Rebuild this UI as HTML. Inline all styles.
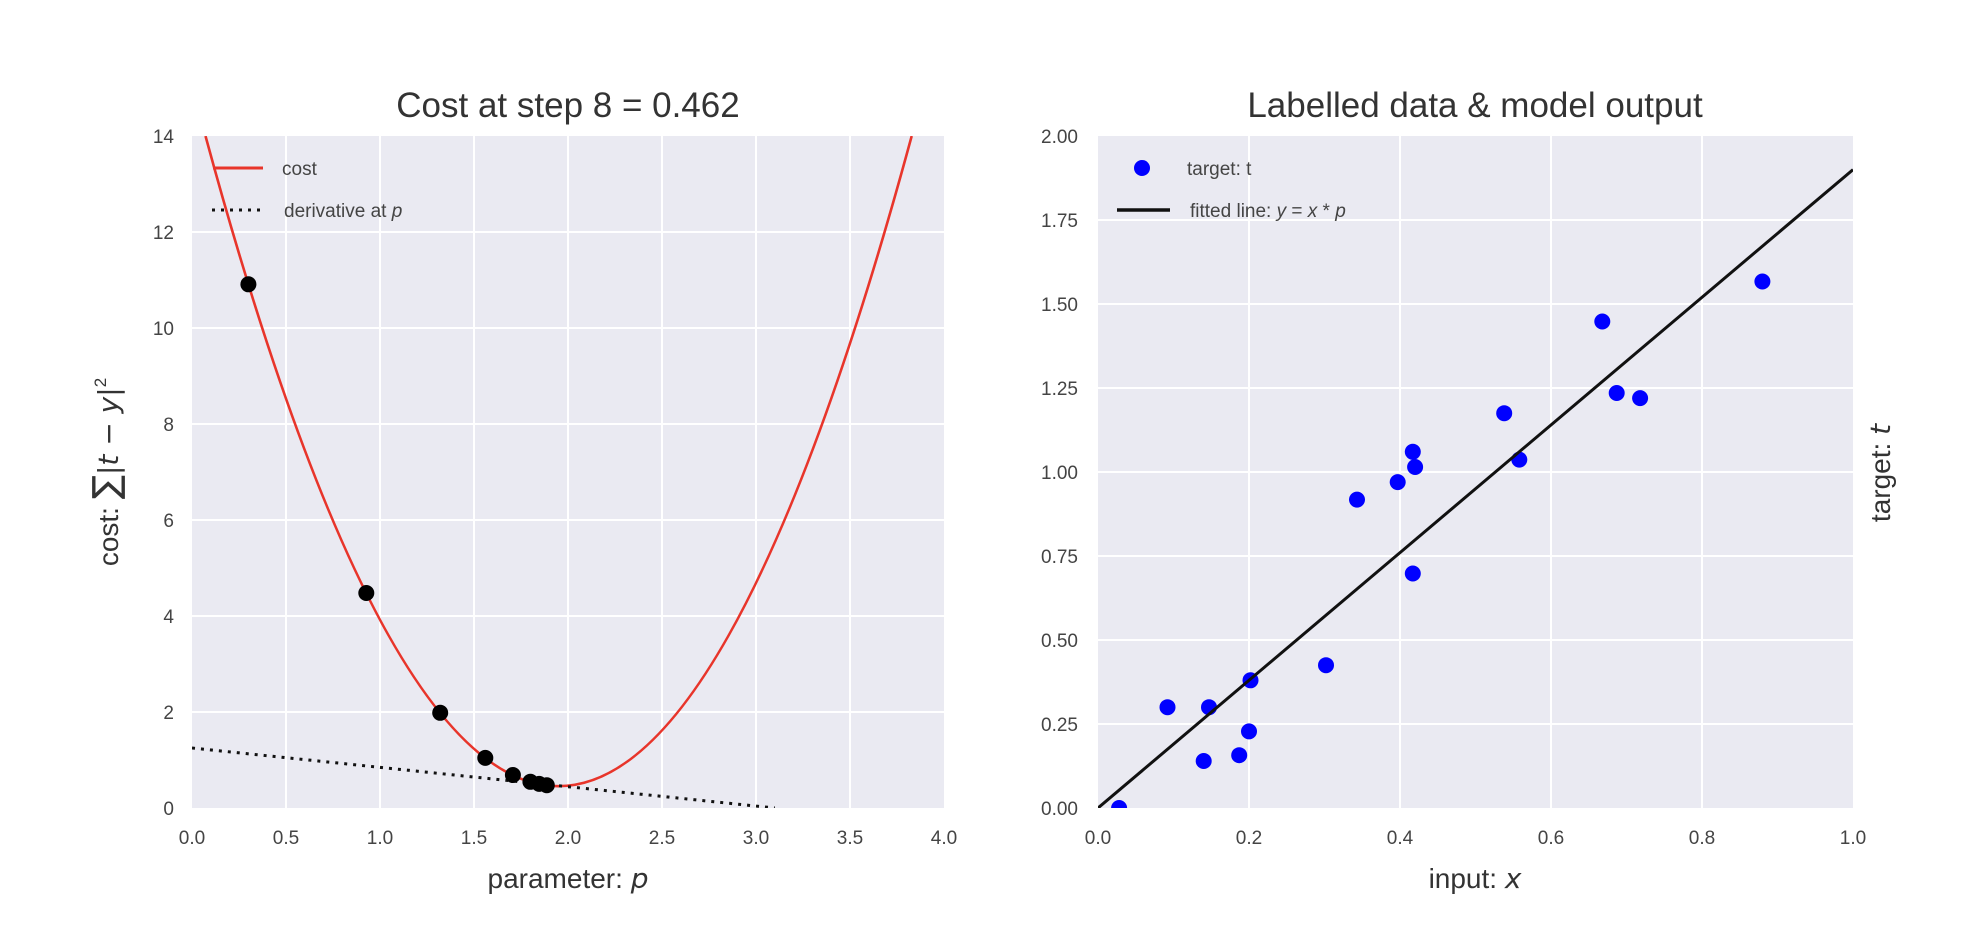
<!DOCTYPE html>
<html><head><meta charset="utf-8"><style>
html,body{margin:0;padding:0;background:#fff;}
svg{display:block;}
text{font-family:"Liberation Sans",sans-serif;}
.tk{font-family:"Liberation Sans Narrow","Liberation Sans",sans-serif;font-size:19px;fill:#444;}
.lg{font-family:"Liberation Sans Narrow","Liberation Sans",sans-serif;font-size:19px;fill:#444;}
.ttl{font-size:35px;fill:#333;}
.lab{font-size:28px;fill:#333;}
</style></head><body>
<svg width="1972" height="938" viewBox="0 0 1972 938" xmlns="http://www.w3.org/2000/svg">
<defs>
<clipPath id="c1"><rect x="192" y="136" width="752" height="672"/></clipPath>
<clipPath id="c2"><rect x="1098" y="136" width="755" height="672"/></clipPath>
</defs>
<!-- Left axes -->
<rect x="192" y="136" width="752" height="672" fill="#EAEAF2"/>
<g stroke="#fff" stroke-width="2">
<line x1="286" y1="136" x2="286" y2="808"/><line x1="380" y1="136" x2="380" y2="808"/>
<line x1="474" y1="136" x2="474" y2="808"/><line x1="568" y1="136" x2="568" y2="808"/>
<line x1="662" y1="136" x2="662" y2="808"/><line x1="756" y1="136" x2="756" y2="808"/>
<line x1="850" y1="136" x2="850" y2="808"/>
<line x1="192" y1="712" x2="944" y2="712"/><line x1="192" y1="616" x2="944" y2="616"/>
<line x1="192" y1="520" x2="944" y2="520"/><line x1="192" y1="424" x2="944" y2="424"/>
<line x1="192" y1="328" x2="944" y2="328"/><line x1="192" y1="232" x2="944" y2="232"/>
</g>
<g clip-path="url(#c1)">
<path d="M205.5,136 Q558.6,1436.3 911.7,136" fill="none" stroke="#E8352B" stroke-width="2.6"/>
<line x1="192" y1="748" x2="774.8" y2="808" stroke="#111" stroke-width="3" stroke-dasharray="3,6"/>
<g fill="#000">
<circle cx="248.4" cy="284.3" r="8"/><circle cx="366.3" cy="593" r="8"/>
<circle cx="440.2" cy="712.8" r="8"/><circle cx="485.3" cy="757.9" r="8"/>
<circle cx="512.9" cy="775" r="8"/><circle cx="530.4" cy="781.8" r="8"/>
<circle cx="539.2" cy="783.9" r="8"/><circle cx="546.8" cy="785.2" r="8"/>
</g>
</g>
<!-- left legend -->
<line x1="213" y1="168" x2="263" y2="168" stroke="#E8352B" stroke-width="3"/>
<text class="lg" x="282" y="175">cost</text>
<line x1="212" y1="210" x2="262" y2="210" stroke="#111" stroke-width="3" stroke-dasharray="3,6"/>
<text class="lg" x="284" y="217">derivative at <tspan font-style="italic">p</tspan></text>
<!-- left ticks -->
<g class="tk" text-anchor="middle">
<text x="192" y="844">0.0</text><text x="286" y="844">0.5</text><text x="380" y="844">1.0</text>
<text x="474" y="844">1.5</text><text x="568" y="844">2.0</text><text x="662" y="844">2.5</text>
<text x="756" y="844">3.0</text><text x="850" y="844">3.5</text><text x="944" y="844">4.0</text>
</g>
<g class="tk" text-anchor="end">
<text x="174" y="815">0</text><text x="174" y="719">2</text><text x="174" y="623">4</text>
<text x="174" y="527">6</text><text x="174" y="431">8</text><text x="174" y="335">10</text>
<text x="174" y="239">12</text><text x="174" y="143">14</text>
</g>
<text class="ttl" x="568" y="117" text-anchor="middle">Cost at step 8 = 0.462</text>
<text class="lab" x="568" y="888" text-anchor="middle">parameter: <tspan font-style="italic" font-family="DejaVu Sans">p</tspan></text>
<text class="lab" transform="translate(118,472) rotate(-90)" text-anchor="middle">cost: <tspan font-family="DejaVu Sans" font-size="36">∑</tspan><tspan font-family="DejaVu Sans">|</tspan><tspan font-style="italic" font-family="DejaVu Sans">t</tspan><tspan font-family="DejaVu Sans"> − </tspan><tspan font-style="italic" font-family="DejaVu Sans">y</tspan><tspan font-family="DejaVu Sans">|</tspan><tspan font-size="17" dy="-12">2</tspan></text>

<!-- Right axes -->
<rect x="1098" y="136" width="755" height="672" fill="#EAEAF2"/>
<g stroke="#fff" stroke-width="2">
<line x1="1249" y1="136" x2="1249" y2="808"/><line x1="1400" y1="136" x2="1400" y2="808"/>
<line x1="1551" y1="136" x2="1551" y2="808"/><line x1="1702" y1="136" x2="1702" y2="808"/>
<line x1="1098" y1="724" x2="1853" y2="724"/>
<line x1="1098" y1="640" x2="1853" y2="640"/>
<line x1="1098" y1="556" x2="1853" y2="556"/>
<line x1="1098" y1="472" x2="1853" y2="472"/>
<line x1="1098" y1="388" x2="1853" y2="388"/>
<line x1="1098" y1="304" x2="1853" y2="304"/>
<line x1="1098" y1="220" x2="1853" y2="220"/>
</g>
<g clip-path="url(#c2)">
<g fill="#0000FF">
<circle cx="1119.1" cy="808" r="8"/><circle cx="1167.5" cy="707.2" r="8"/>
<circle cx="1209" cy="707.2" r="8"/><circle cx="1203.7" cy="761" r="8"/>
<circle cx="1239.2" cy="755.2" r="8"/><circle cx="1249" cy="731.4" r="8"/>
<circle cx="1250.5" cy="680.3" r="8"/><circle cx="1326" cy="665.2" r="8"/>
<circle cx="1357" cy="499.6" r="8"/><circle cx="1397.7" cy="482.1" r="8"/>
<circle cx="1412.8" cy="451.8" r="8"/><circle cx="1415.1" cy="467" r="8"/>
<circle cx="1412.8" cy="573.5" r="8"/><circle cx="1504.2" cy="413.2" r="8"/>
<circle cx="1519.3" cy="459.6" r="8"/><circle cx="1602.3" cy="321.5" r="8"/>
<circle cx="1616.7" cy="393" r="8"/><circle cx="1640.1" cy="398.1" r="8"/>
<circle cx="1762.4" cy="281.5" r="8"/>
</g>
<line x1="1098" y1="808" x2="1853" y2="169.6" stroke="#111" stroke-width="3"/>
</g>
<!-- right legend -->
<circle cx="1142" cy="168" r="8" fill="#0000FF"/>
<text class="lg" x="1187" y="175">target: t</text>
<line x1="1117" y1="210" x2="1170" y2="210" stroke="#111" stroke-width="3.5"/>
<text class="lg" x="1190" y="217">fitted line: <tspan font-style="italic">y</tspan> = <tspan font-style="italic">x</tspan> * <tspan font-style="italic">p</tspan></text>
<!-- right ticks -->
<g class="tk" text-anchor="middle">
<text x="1098" y="844">0.0</text><text x="1249" y="844">0.2</text><text x="1400" y="844">0.4</text>
<text x="1551" y="844">0.6</text><text x="1702" y="844">0.8</text><text x="1853" y="844">1.0</text>
</g>
<g class="tk" text-anchor="end">
<text x="1078" y="815">0.00</text><text x="1078" y="731">0.25</text><text x="1078" y="647">0.50</text>
<text x="1078" y="563">0.75</text><text x="1078" y="479">1.00</text><text x="1078" y="395">1.25</text>
<text x="1078" y="311">1.50</text><text x="1078" y="227">1.75</text><text x="1078" y="143">2.00</text>
</g>
<text class="ttl" x="1475" y="117" text-anchor="middle">Labelled data &amp; model output</text>
<text class="lab" x="1475" y="888" text-anchor="middle">input: <tspan font-style="italic" font-family="DejaVu Sans">x</tspan></text>
<text class="lab" transform="translate(1890,473) rotate(-90)" text-anchor="middle">target: <tspan font-style="italic" font-family="DejaVu Sans">t</tspan></text>
</svg>
</body></html>
